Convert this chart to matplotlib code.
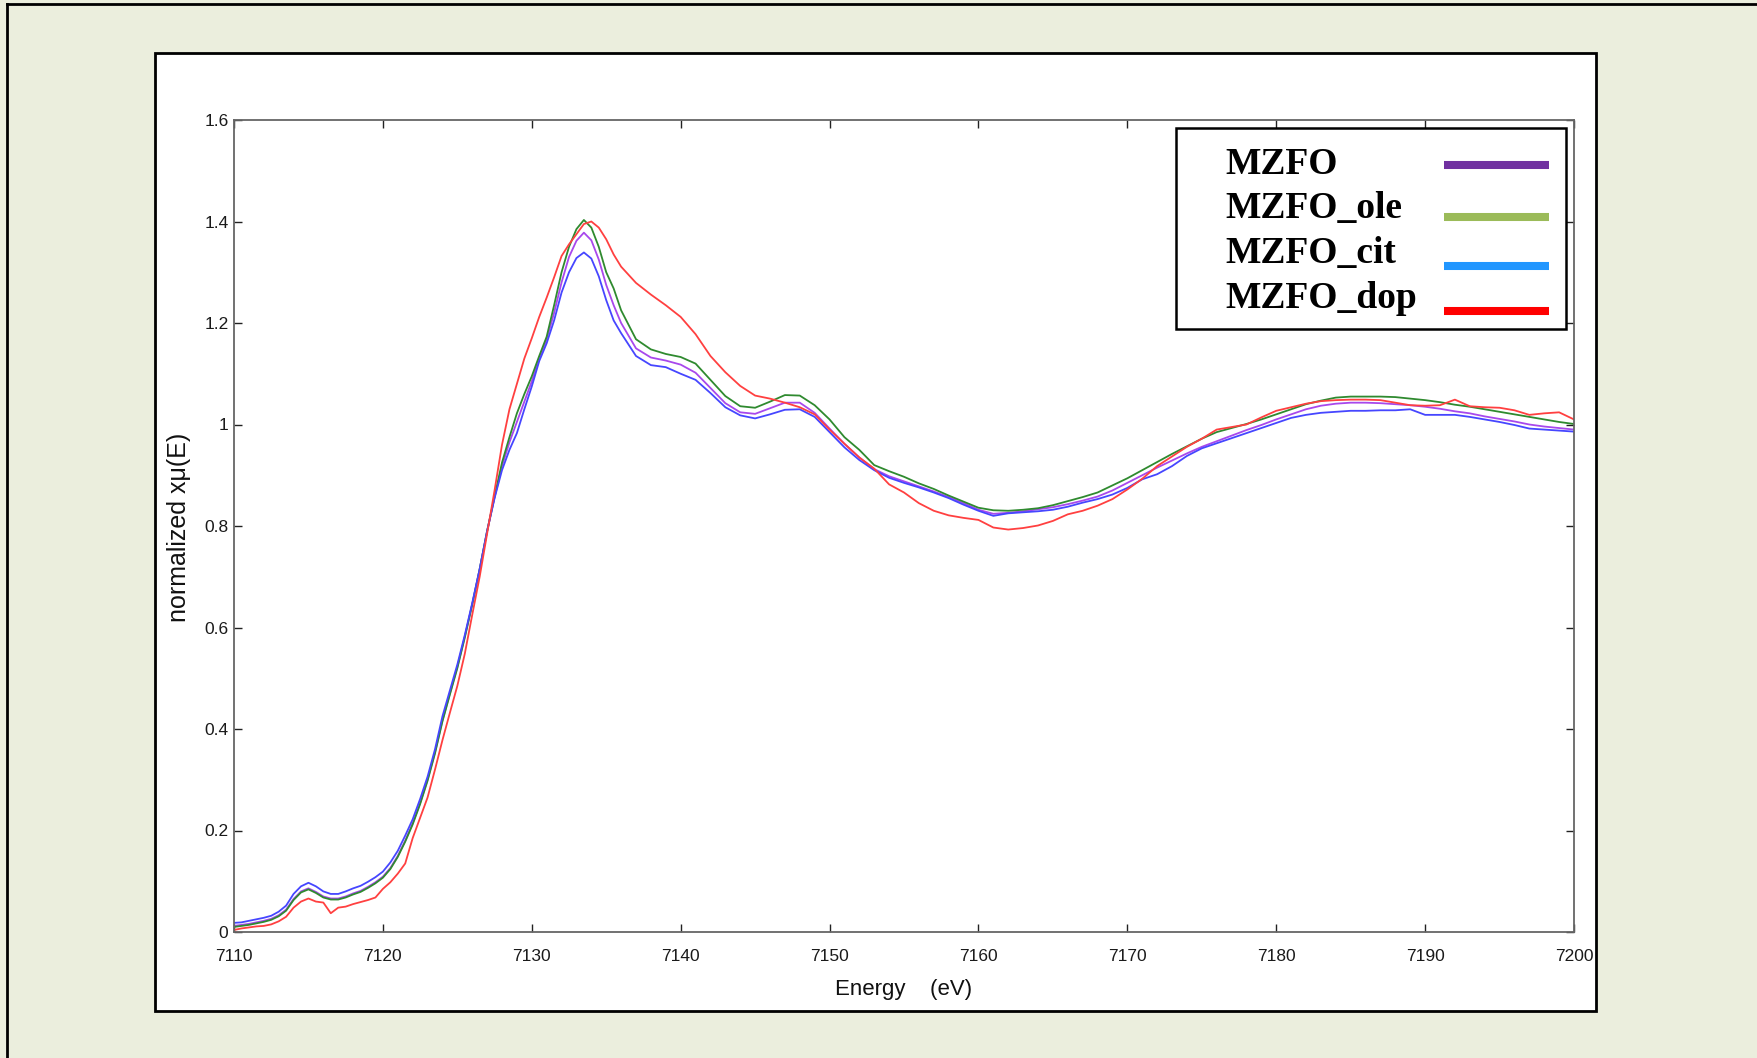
import matplotlib
matplotlib.use("Agg")
import matplotlib.pyplot as plt
from matplotlib.patches import Rectangle
from matplotlib.lines import Line2D
from matplotlib.ticker import FuncFormatter

# ---------------- data ----------------
energy = [7110, 7110.5, 7111, 7111.5, 7112, 7112.5, 7113, 7113.5, 7114, 7114.5,
          7115, 7115.5, 7116, 7116.5, 7117, 7117.5, 7118, 7118.5, 7119, 7119.5,
          7120, 7120.5, 7121, 7121.5, 7122, 7122.5, 7123, 7123.5, 7124, 7124.5,
          7125, 7125.5, 7126, 7126.5, 7127, 7127.5, 7128, 7128.5, 7129, 7129.5,
          7130, 7130.5, 7131, 7131.5, 7132, 7132.5, 7133, 7133.5, 7134, 7134.5,
          7135, 7135.5, 7136, 7137, 7138, 7139, 7140, 7141, 7142, 7143,
          7144, 7145, 7146, 7147, 7148, 7149, 7150, 7151, 7152, 7153,
          7154, 7155, 7156, 7157, 7158, 7159, 7160, 7161, 7162, 7163,
          7164, 7165, 7166, 7167, 7168, 7169, 7170, 7171, 7172, 7173,
          7174, 7175, 7176, 7177, 7178, 7179, 7180, 7181, 7182, 7183,
          7184, 7185, 7186, 7187, 7188, 7189, 7190, 7191, 7192, 7193,
          7194, 7195, 7196, 7197, 7198, 7199, 7200]

mzfo_cit = [0.018, 0.019, 0.022, 0.025, 0.028, 0.032, 0.040, 0.052, 0.075, 0.090,
            0.097, 0.090, 0.080, 0.075, 0.075, 0.080, 0.086, 0.091, 0.099, 0.108,
            0.119, 0.137, 0.160, 0.190, 0.222, 0.262, 0.306, 0.360, 0.425, 0.476,
            0.527, 0.585, 0.648, 0.715, 0.790, 0.855, 0.910, 0.950, 0.983, 1.030,
            1.075, 1.125, 1.160, 1.205, 1.260, 1.300, 1.328, 1.339, 1.327, 1.292,
            1.245, 1.205, 1.180, 1.135, 1.117, 1.113, 1.100, 1.088, 1.062, 1.034,
            1.018, 1.012, 1.020, 1.029, 1.030, 1.015, 0.985, 0.955, 0.930, 0.910,
            0.895, 0.885, 0.876, 0.866, 0.855, 0.842, 0.830, 0.820, 0.825, 0.827,
            0.829, 0.832, 0.838, 0.846, 0.853, 0.862, 0.875, 0.892, 0.902, 0.918,
            0.938, 0.953, 0.963, 0.973, 0.983, 0.993, 1.003, 1.013, 1.019, 1.023,
            1.025, 1.027, 1.027, 1.028, 1.028, 1.030, 1.019, 1.019, 1.019, 1.015,
            1.010, 1.005, 0.999, 0.992, 0.990, 0.988, 0.986]

mzfo_ole = [0.010, 0.012, 0.014, 0.017, 0.020, 0.024, 0.031, 0.042, 0.063, 0.078,
            0.084, 0.077, 0.068, 0.064, 0.064, 0.068, 0.074, 0.079, 0.087, 0.096,
            0.107, 0.124, 0.148, 0.178, 0.212, 0.252, 0.298, 0.352, 0.415, 0.468,
            0.520, 0.580, 0.645, 0.715, 0.790, 0.858, 0.925, 0.975, 1.022, 1.060,
            1.095, 1.135, 1.173, 1.235, 1.300, 1.350, 1.385, 1.403, 1.388, 1.350,
            1.300, 1.268, 1.225, 1.168, 1.148, 1.139, 1.133, 1.120, 1.088, 1.056,
            1.036, 1.033, 1.045, 1.058, 1.057, 1.038, 1.010, 0.975, 0.950, 0.920,
            0.908, 0.897, 0.884, 0.873, 0.860, 0.848, 0.836, 0.831, 0.830, 0.832,
            0.835, 0.841, 0.849, 0.857, 0.866, 0.880, 0.894, 0.910, 0.926, 0.942,
            0.957, 0.972, 0.985, 0.993, 1.001, 1.010, 1.020, 1.030, 1.040, 1.047,
            1.053, 1.055, 1.055, 1.055, 1.054, 1.051, 1.048, 1.044, 1.039, 1.035,
            1.030, 1.025, 1.020, 1.015, 1.010, 1.005, 1.001]

mzfo = [0.012, 0.014, 0.016, 0.019, 0.022, 0.026, 0.033, 0.044, 0.065, 0.080,
        0.086, 0.079, 0.070, 0.066, 0.066, 0.070, 0.076, 0.081, 0.089, 0.098,
        0.109, 0.126, 0.150, 0.180, 0.214, 0.254, 0.300, 0.354, 0.417, 0.470,
        0.522, 0.582, 0.646, 0.715, 0.790, 0.856, 0.918, 0.965, 1.005, 1.045,
        1.085, 1.130, 1.168, 1.220, 1.280, 1.330, 1.362, 1.378, 1.363, 1.325,
        1.275, 1.235, 1.200, 1.150, 1.132, 1.126, 1.118, 1.102, 1.072, 1.042,
        1.024, 1.021, 1.032, 1.043, 1.043, 1.023, 0.992, 0.962, 0.935, 0.912,
        0.898, 0.888, 0.878, 0.868, 0.857, 0.845, 0.832, 0.824, 0.826, 0.829,
        0.833, 0.837, 0.843, 0.850, 0.858, 0.870, 0.885, 0.900, 0.915, 0.929,
        0.943, 0.956, 0.967, 0.978, 0.989, 0.999, 1.010, 1.020, 1.030, 1.037,
        1.041, 1.043, 1.043, 1.042, 1.040, 1.038, 1.035, 1.031, 1.026, 1.022,
        1.016, 1.011, 1.006, 1.000, 0.996, 0.993, 0.990]

mzfo_dop = [0.004, 0.007, 0.009, 0.011, 0.012, 0.015, 0.021, 0.030, 0.048, 0.060,
            0.066, 0.060, 0.058, 0.037, 0.048, 0.050, 0.055, 0.059, 0.063, 0.068,
            0.085, 0.098, 0.115, 0.135, 0.185, 0.225, 0.265, 0.320, 0.378, 0.432,
            0.485, 0.548, 0.625, 0.700, 0.785, 0.870, 0.960, 1.030, 1.080, 1.130,
            1.170, 1.212, 1.250, 1.290, 1.332, 1.355, 1.375, 1.395, 1.400, 1.388,
            1.365, 1.335, 1.311, 1.279, 1.256, 1.235, 1.212, 1.178, 1.135, 1.103,
            1.076, 1.057, 1.051, 1.043, 1.034, 1.020, 0.990, 0.962, 0.935, 0.913,
            0.882, 0.866, 0.845, 0.830, 0.821, 0.816, 0.812, 0.797, 0.793, 0.796,
            0.801, 0.810, 0.823, 0.830, 0.840, 0.853, 0.872, 0.893, 0.918, 0.937,
            0.956, 0.972, 0.990, 0.995, 1.000, 1.014, 1.027, 1.034, 1.041, 1.046,
            1.048, 1.049, 1.049, 1.048, 1.043, 1.038, 1.037, 1.038, 1.049, 1.036,
            1.034, 1.033, 1.028, 1.019, 1.022, 1.024, 1.010]

series_names = ["MZFO", "MZFO_ole", "MZFO_cit", "MZFO_dop"]
series_values = [mzfo, mzfo_ole, mzfo_cit, mzfo_dop]
curve_colors = ["#A848EC", "#2F8A2F", "#4646FF", "#FF4040"]
legend_colors = ["#7030A0", "#9BBB59", "#2196FF", "#FF0000"]

x_ticks = [7110, 7120, 7130, 7140, 7150, 7160, 7170, 7180, 7190, 7200]
y_ticks = [0, 0.2, 0.4, 0.6, 0.8, 1.0, 1.2, 1.4, 1.6]

# ---------------- figure ----------------
W, H = 1757, 1058
BG = "#EBEEDD"
fig = plt.figure(figsize=(W / 100, H / 100), dpi=100, facecolor=BG)


def fx(x):
    return x / W


def fy(y):
    return 1 - y / H


# outer frame (left and top edges visible)
fig.add_artist(Line2D([fx(7), fx(7)], [fy(4), fy(H + 10)], color="black", lw=2.0,
                      transform=fig.transFigure, zorder=0))
fig.add_artist(Line2D([fx(7), fx(W + 10)], [fy(4), fy(4)], color="black", lw=2.0,
                      transform=fig.transFigure, zorder=0))

# white inner panel
fig.add_artist(Rectangle((fx(155), fy(1011)), fx(1596 - 155), (1011 - 53) / H,
                         facecolor="white", edgecolor="black", lw=2.0,
                         transform=fig.transFigure, zorder=0))

ax = fig.add_axes([fx(234), fy(932), fx(1574 - 234), (932 - 120) / H])
ax.set_zorder(1)
ax.set_facecolor("white")

for vals, col in zip(series_values, curve_colors):
    ax.plot(energy, vals, color=col, lw=1.3, solid_joinstyle="round")

ax.set_xlim(7110, 7200)
ax.set_ylim(0, 1.6)
ax.set_xticks(x_ticks)
ax.set_yticks(y_ticks)
ax.yaxis.set_major_formatter(FuncFormatter(lambda v, p: f"{v:g}"))

tick_font = ["Liberation Sans", "DejaVu Sans"]
for lab in ax.get_xticklabels() + ax.get_yticklabels():
    lab.set_family(tick_font)
    lab.set_fontsize(12.5)
    lab.set_color("#1a1a1a")

ax.tick_params(direction="in", length=6, width=1.0, color="#222222",
               top=True, right=True)
ax.tick_params(axis="x", pad=12)
ax.tick_params(axis="y", pad=4)
for sp in ax.spines.values():
    sp.set_color("#666666")
    sp.set_linewidth(1.3)

# axis labels
fig.text(fx(904), fy(995), "Energy    (eV)", ha="center", va="baseline",
         fontsize=16, family=["Liberation Sans", "DejaVu Sans"], color="#111111")
fig.text(fx(179), fy(527), "normalized xμ(E)", ha="center", va="center", rotation=90,
         fontsize=18, family=["Liberation Sans", "DejaVu Sans"], color="#111111")

# legend box (drawn manually)
fig.add_artist(Rectangle((fx(1176), fy(329)), fx(1566 - 1176), (329 - 128) / H,
                         facecolor="white", edgecolor="black", lw=1.8,
                         transform=fig.transFigure, zorder=5))
text_base = [174, 218, 263, 308]
line_y = [165, 217, 266, 311]
for name, col, tb, ly in zip(series_names, legend_colors, text_base, line_y):
    fig.text(fx(1225), fy(tb), name, ha="left", va="baseline", fontsize=27,
             fontweight="bold", family=["Liberation Serif", "DejaVu Serif"],
             color="black", zorder=6)
    fig.add_artist(Line2D([fx(1444), fx(1549)], [fy(ly), fy(ly)], color=col, lw=5.8,
                          solid_capstyle="butt", transform=fig.transFigure, zorder=6))

fig.savefig("out.png", dpi=100, facecolor=BG)
